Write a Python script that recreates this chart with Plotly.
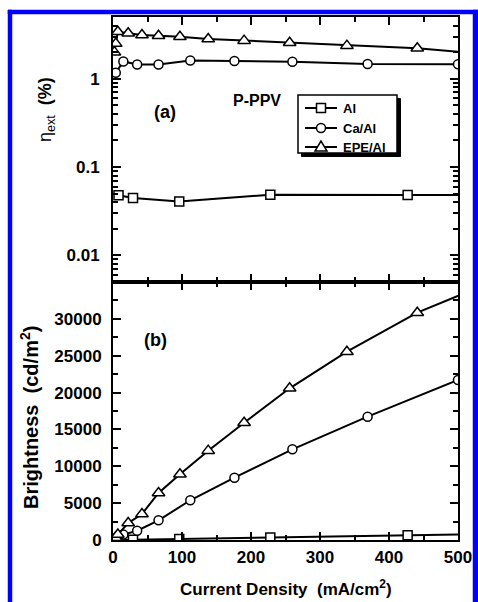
import plotly.graph_objects as go

# ---------------- data ----------------
x_al = [8, 29, 96, 228, 427, 510]
eta_al = [0.048, 0.0446, 0.0407, 0.0486, 0.0482, 0.0482]
bright_al = [10, 40, 120, 340, 640, 760]

x_ca = [4, 15, 35, 66, 112, 176, 260, 369, 500]
eta_ca = [1.17, 1.57, 1.45, 1.45, 1.61, 1.59, 1.56, 1.47, 1.46]
bright_ca = [150, 730, 1260, 2670, 5390, 8450, 12300, 16730, 21700]

x_epe = [2, 4, 7, 22, 42, 66, 97, 138, 190, 256, 339, 441, 510]
eta_epe = [2.0, 2.5, 3.4, 3.27, 3.13, 3.07, 2.99, 2.82, 2.70, 2.56, 2.37, 2.21, 1.99]
bright_epe = [120, 310, 740, 2300, 3530, 6380, 8910, 12120, 15910, 20580, 25540, 30840, 33500]

series_names = ["Al", "Ca/Al", "EPE/Al"]
symbols = ["square", "circle", "triangle-up"]
marker_sizes = [9, 9, 11]

x_ticks = [0, 100, 200, 300, 400, 500]
x_tick_text = ["0", "100", "200", "300", "400", "500"]
eta_ticks = [0.01, 0.1, 1]
eta_tick_text = ["0.01", "0.1", "1"]
bright_ticks = [0, 5000, 10000, 15000, 20000, 25000, 30000]
bright_tick_text = ["0", "5000", "10000", "15000", "20000", "25000", "30000"]

# ---------------- layout geometry ----------------
W, H = 478, 602
L, R, T, B = 113, 458, 17, 540
SPLIT = 282
PW, PH = R - L, B - T


def px(xp):
    return (xp - L) / PW


def py(yp):
    return (B - yp) / PH


split_frac = py(SPLIT)
FONT = "Liberation Sans, Arial, sans-serif"

fig = go.Figure()

xs = [x_al, x_ca, x_epe]
etas = [eta_al, eta_ca, eta_epe]
brights = [bright_al, bright_ca, bright_epe]


def style(i):
    return dict(
        mode="lines+markers",
        line=dict(color="black", width=2),
        marker=dict(symbol=symbols[i], size=marker_sizes[i], color="white",
                    line=dict(color="black", width=1.5)),
        name=series_names[i],
        showlegend=False,
    )


for i in range(3):
    fig.add_trace(go.Scatter(x=xs[i], y=etas[i], xaxis="x2", yaxis="y2", **style(i)))
for i in range(3):
    fig.add_trace(go.Scatter(x=xs[i], y=brights[i], xaxis="x", yaxis="y", **style(i)))

axis_style = dict(
    showline=True, linewidth=2, linecolor="black", mirror="allticks",
    ticks="inside", ticklen=8, tickwidth=2, tickcolor="black",
    showgrid=False, zeroline=False, automargin=False,
    tickfont=dict(family=FONT, size=17, color="black", weight="bold"),
)
minor_style = dict(ticks="inside", ticklen=5, tickwidth=2, tickcolor="black")

fig.update_layout(
    template="none",
    width=W, height=H,
    margin=dict(l=L, r=W - R, t=T, b=H - B, autoexpand=False),
    paper_bgcolor="white", plot_bgcolor="white",
    showlegend=False,
    xaxis=dict(domain=[0, 1], anchor="y", range=[0, 500],
               tickmode="array", tickvals=x_ticks, ticktext=x_tick_text,
               minor=dict(dtick=50, **minor_style),
               ticklabelstandoff=1, **axis_style),
    yaxis=dict(domain=[0, split_frac], anchor="x", range=[0, 35000],
               tickmode="array", tickvals=bright_ticks, ticktext=bright_tick_text,
               minor=dict(dtick=2500, **minor_style),
               ticklabelstandoff=6, **axis_style),
    xaxis2=dict(domain=[0, 1], anchor="y2", range=[0, 500], matches="x",
                tickmode="array", tickvals=x_ticks, showticklabels=False,
                minor=dict(dtick=50, **minor_style), **axis_style),
    yaxis2=dict(domain=[split_frac, 1], anchor="x2", type="log",
                range=[-2.30103, 0.69897],
                tickmode="array", tickvals=eta_ticks, ticktext=eta_tick_text,
                minor=dict(dtick="D1", **minor_style),
                ticklabelstandoff=8, **axis_style),
)


def rect_path(x0, y0, x1, y1):
    return "M {a},{b} L {c},{b} L {c},{d} L {a},{d} Z".format(
        a=px(x0), b=py(y0), c=px(x1), d=py(y1))


# ---------------- legend (drawn box with shadow) ----------------
LG_X0, LG_X1, LG_Y0, LG_Y1 = 298, 397, 95, 153
SH = 3.5
fig.add_shape(type="path", xref="paper", yref="paper",
              path=rect_path(LG_X0 + SH, LG_Y0 + SH, LG_X1 + SH, LG_Y1 + SH),
              fillcolor="black", line=dict(color="black", width=1), layer="above")
fig.add_shape(type="path", xref="paper", yref="paper",
              path=rect_path(LG_X0, LG_Y0, LG_X1, LG_Y1),
              fillcolor="white", line=dict(color="black", width=1.5), layer="above")
entry_y = [108, 128, 147]
for i, name in enumerate(series_names):
    yy = entry_y[i]
    fig.add_shape(type="line", xref="paper", yref="paper",
                  x0=px(305), x1=px(337), y0=py(yy), y1=py(yy),
                  line=dict(color="black", width=2), layer="above")
    cx = 321
    if symbols[i] == "square":
        fig.add_shape(type="path", xref="paper", yref="paper",
                      path=rect_path(cx - 4.5, yy - 4.5, cx + 4.5, yy + 4.5),
                      fillcolor="white", line=dict(color="black", width=1.5), layer="above")
    elif symbols[i] == "circle":
        fig.add_shape(type="circle", xref="paper", yref="paper",
                      x0=px(cx - 4.5), x1=px(cx + 4.5), y0=py(yy + 4.5), y1=py(yy - 4.5),
                      fillcolor="white", line=dict(color="black", width=1.5), layer="above")
    else:
        path = "M {a},{b} L {c},{d} L {e},{f} Z".format(
            a=px(cx - 6), b=py(yy + 4), c=px(cx + 6), d=py(yy + 4), e=px(cx), f=py(yy - 6))
        fig.add_shape(type="path", xref="paper", yref="paper", path=path,
                      fillcolor="white", line=dict(color="black", width=1.5), layer="above")
    fig.add_annotation(xref="paper", yref="paper", x=px(341), y=py(yy),
                       xanchor="left", yanchor="middle",
                       text="<b>" + name + "</b>", showarrow=False,
                       font=dict(family=FONT, size=13, color="black"))

# blue frame
blue = "#0000FF"
for (a, b_, c, d) in [(8, 478, 10, 14), (8, 12, 10, 602), (473, 478, 10, 602)]:
    fig.add_shape(type="path", xref="paper", yref="paper",
                  path=rect_path(a, c, b_, d),
                  fillcolor=blue, line=dict(color=blue, width=0.5), layer="above")


def label(xp, yp, text, size, angle=0):
    fig.add_annotation(xref="paper", yref="paper", x=px(xp), y=py(yp),
                       xanchor="center", yanchor="middle", text=text, textangle=angle,
                       showarrow=False, font=dict(family=FONT, size=size, color="black"))


label(165, 112, "<b>(a)</b>", 18)
label(257, 100, "<b>P-PPV</b>", 16)
label(155, 340, "<b>(b)</b>", 18)
label(47, 110, "η<sub>ext</sub>  <b>(%)</b>", 18, -90)
label(29, 418, "<b>Brightness  (cd/m<sup>2</sup>)</b>", 20, -90)
label(286, 588, "<b>Current Density  (mA/cm<sup>2</sup>)</b>", 17)

fig.write_html(
    "out.html",
    config={"displayModeBar": False, "staticPlot": True},
    post_script="document.body.style.margin='0';document.body.style.overflow='hidden';",
)
